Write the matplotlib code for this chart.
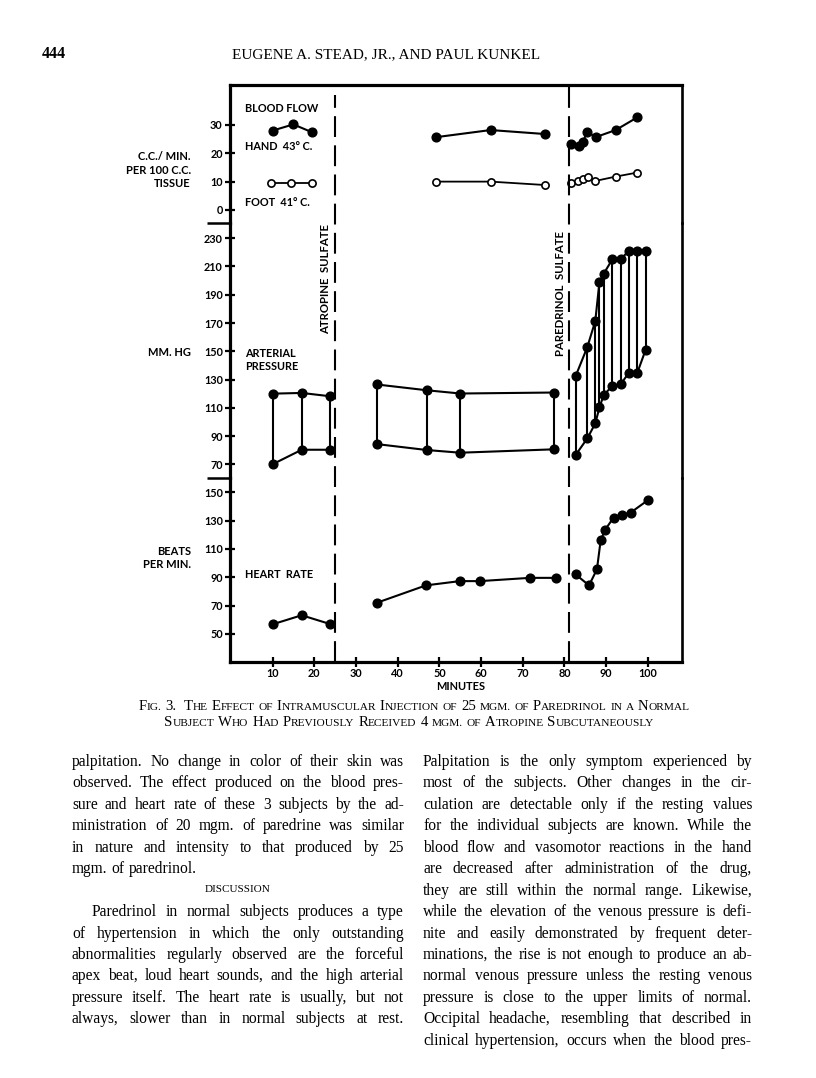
import numpy as np
import matplotlib
matplotlib.use("Agg")
import matplotlib.pyplot as plt

# --- Data -------------------------------------------------------

atropine_t = 25      # minutes, atropine sulfate given
paredrinol_t = 81    # minutes, paredrinol sulfate given

# blood flow, c.c./min per 100 c.c. tissue
hand_t = [10, 15, 19.5, 49.3, 62.3, 75.3, 81.5, 83.5, 84.5, 85.4, 87.5, 92.3, 97.5]
hand_flow = [28.0, 30.2, 27.4, 25.7, 28.2, 26.8, 23.2, 22.6, 24.1, 27.6, 25.7, 28.2, 32.7]
foot_t = [9.6, 14.5, 19.5, 49.3, 62.3, 75.3, 81.5, 83.3, 84.5, 85.7, 87.3, 92.4, 97.5]
foot_flow = [9.5, 9.5, 9.5, 10.0, 10.0, 8.8, 9.6, 10.2, 10.8, 11.8, 10.2, 11.8, 13.2]

# arterial pressure, mm Hg
bp_t = [10, 17, 23.7, 35, 47, 55, 77.5, 82.7, 85.5, 87.4, 88.4, 89.4, 91.5, 93.5, 95.5, 97.5, 99.5]
systolic = [120, 120.5, 118.2, 126.5, 122.4, 120.1, 120.8, 132.5, 153, 171.4, 198.9,
            204.8, 215.1, 215.1, 221.3, 221.3, 221.3]
diastolic = [70, 80.3, 80.3, 84.3, 80.1, 78.2, 80.6, 76.6, 88.4, 98.9, 110.2,
             118.9, 125.5, 126.7, 134.9, 134.9, 151.2]

# heart rate, beats per min
hr_t = [10, 17, 23.8, 35, 46.8, 54.9, 59.7, 71.7, 77.9, 82.7, 85.9, 87.8, 88.7,
        89.8, 91.8, 93.8, 95.9, 100]
heart_rate = [56.8, 63.2, 57, 72, 84.3, 87.3, 87.3, 89.6, 89.6, 92, 84.3, 95.6,
              116.2, 123.7, 132.2, 134, 135.7, 144.4]

flow_ticks = [0, 10, 20, 30]
bp_ticks = list(range(70, 231, 20))
hr_ticks = list(range(50, 151, 20))
minute_ticks = list(range(10, 101, 10))

# --- Page text ---------------------------------------------------

left_col = [
    "palpitation.  No change in color of their skin was",
    "observed.  The effect produced on the blood pres-",
    "sure and heart rate of these 3 subjects by the ad-",
    "ministration of 20 mgm. of paredrine was similar",
    "in nature and intensity to that produced by 25",
    "mgm. of paredrinol.",
]
left_col2 = [
    "Paredrinol in normal subjects produces a type",
    "of hypertension in which the only outstanding",
    "abnormalities regularly observed are the forceful",
    "apex beat, loud heart sounds, and the high arterial",
    "pressure itself.  The heart rate is usually, but not",
    "always, slower than in normal subjects at rest.",
]
right_col = [
    "Palpitation is the only symptom experienced by",
    "most of the subjects.  Other changes in the cir-",
    "culation are detectable only if the resting values",
    "for the individual subjects are known.  While the",
    "blood flow and vasomotor reactions in the hand",
    "are decreased after administration of the drug,",
    "they are still within the normal range.  Likewise,",
    "while the elevation of the venous pressure is defi-",
    "nite and easily demonstrated by frequent deter-",
    "minations, the rise is not enough to produce an ab-",
    "normal venous pressure unless the resting venous",
    "pressure is close to the upper limits of normal.",
    "Occipital headache, resembling that described in",
    "clinical hypertension, occurs when the blood pres-",
]

# --- Figure ------------------------------------------------------

W, H = 816, 1078
fig = plt.figure(figsize=(W / 100, H / 100), dpi=100)
fig.patch.set_facecolor("white")
renderer = fig.canvas.get_renderer()


def fx(px):
    return px / W


def fy(py):
    return 1 - py / H


CHART = dict(family="Lato", weight="bold", color="black")
SERIF = dict(family="Liberation Serif", color="black")

LEFT, RIGHT = 230, 682
TOP, SEP1, SEP2, BOTTOM = 85, 222.7, 478, 662
XLIM = (-0.2, 108.2)


def panel(y_top, y_bot, ylim, yticks):
    ax = fig.add_axes([fx(LEFT), fy(y_bot), (RIGHT - LEFT) / W, (y_bot - y_top) / H])
    ax.set_xlim(*XLIM)
    ax.set_ylim(*ylim)
    ax.set_yticks(yticks)
    ax.patch.set_alpha(0)
    ax.spines["top"].set_visible(False)
    ax.spines["bottom"].set_visible(False)
    ax.spines["left"].set_linewidth(2.3)
    ax.spines["right"].set_linewidth(1.9)
    ax.tick_params(axis="y", direction="inout", length=7.5, width=1.6, pad=1.5)
    ax.tick_params(axis="x", bottom=False, labelbottom=False)
    for lbl in ax.get_yticklabels():
        lbl.set_fontfamily("Lato")
        lbl.set_fontweight("bold")
        lbl.set_fontsize(7.8)
    return ax


def segments(t, v):
    t = np.asarray(t, float)
    v = np.asarray(v, float)
    edges = [-np.inf, atropine_t, paredrinol_t, np.inf]
    for a, b in zip(edges[:-1], edges[1:]):
        m = (t > a) & (t < b)
        if m.any():
            yield t[m], v[m]


def filled(ax, t, v):
    for ts, vs in segments(t, v):
        ax.plot(ts, vs, "-o", color="black", lw=1.5, ms=6.3, zorder=3)


ax_flow = panel(TOP, SEP1, (-4.5, 44.1), flow_ticks)
ax_bp = panel(SEP1, SEP2, (60.3, 241.0), bp_ticks)
ax_hr = panel(SEP2, BOTTOM, (30.2, 160.1), hr_ticks)

ax_flow.spines["top"].set_visible(True)
ax_flow.spines["top"].set_linewidth(2.3)
ax_hr.spines["bottom"].set_visible(True)
ax_hr.spines["bottom"].set_linewidth(2.3)

# blood flow
filled(ax_flow, hand_t, hand_flow)
for ts, vs in segments(foot_t, foot_flow):
    ax_flow.plot(ts, vs, "-o", color="black", lw=1.3, ms=5.2, mfc="white", mew=1.2, zorder=3)

# arterial pressure
ax_bp.vlines(bp_t, diastolic, systolic, color="black", lw=1.5, zorder=2)
filled(ax_bp, bp_t, systolic)
filled(ax_bp, bp_t, diastolic)

# heart rate
filled(ax_hr, hr_t, heart_rate)
ax_hr.set_xticks(minute_ticks)
ax_hr.tick_params(axis="x", bottom=True, labelbottom=True, direction="inout",
                  length=7, width=1.6, pad=0.5)
for lbl in ax_hr.get_xticklabels():
    lbl.set_fontfamily("Lato")
    lbl.set_fontweight("bold")
    lbl.set_fontsize(7.8)
fig.text(fx(461), fy(686), "MINUTES", ha="center", va="center", fontsize=7.9, **CHART)

# short separators between the three scales
for ax in (ax_bp, ax_hr):
    ax.plot([-23 / (RIGHT - LEFT), 0], [1, 1], transform=ax.transAxes,
            clip_on=False, color="black", lw=1.8, solid_capstyle="butt")

# injection markers across the whole chart
ax_all = fig.add_axes([fx(LEFT), fy(BOTTOM), (RIGHT - LEFT) / W, (BOTTOM - TOP) / H])
ax_all.set_xlim(*XLIM)
ax_all.set_ylim(0, 1)
ax_all.axis("off")
ax_all.axvline(atropine_t, ymax=(BOTTOM - 95) / (BOTTOM - TOP), color="black",
               lw=1.5, linestyle=(0, (10, 4)))
ax_all.axvline(paredrinol_t, color="black", lw=1.5, linestyle=(0, (10, 4)))

fig.text(fx(326), fy(279), "ATROPINE  SULFATE", rotation=90, ha="center", va="center",
         fontsize=8.2, **CHART)
fig.text(fx(560), fy(293), "PAREDRINOL  SULFATE", rotation=90, ha="center", va="center",
         fontsize=8.2, **CHART)

# panel labels
inner = [("BLOOD FLOW", 108.5), ("HAND  43° C.", 146), ("FOOT  41° C.", 202),
         ("ARTERIAL", 353.5), ("PRESSURE", 367), ("HEART  RATE", 574.5)]
for s, y in inner:
    fig.text(fx(245), fy(y), s, ha="left", va="center", fontsize=7.8, **CHART)

outer = [("C.C./ MIN.", 157), ("PER 100 C.C.", 170), ("TISSUE", 183.5),
         ("MM. HG", 353), ("BEATS", 551.5), ("PER MIN.", 565)]
for s, y in outer:
    fig.text(fx(191), fy(y), s, ha="right", va="center", fontsize=8, **CHART)

# --- Page furniture ----------------------------------------------


def text_width(s, **kw):
    t = fig.text(0, 0, s, **kw)
    w = t.get_window_extent(renderer).width
    t.remove()
    return w


def put_line(line, x0, x1, base, justify=True, **kw):
    base = round(base)
    words = line.split()
    widths = [text_width(w, **kw) for w in words]
    space = text_width("a a", **kw) - text_width("aa", **kw)
    gap = (x1 - x0 - sum(widths)) / (len(words) - 1) if justify and len(words) > 1 else space
    x = x0
    for w, wd in zip(words, widths):
        fig.text(fx(x), fy(base), w, ha="left", va="baseline", **kw)
        x += wd + gap


def small_caps(s, xc, base, big, small, **kw):
    runs = []
    size = big
    for ch in s:
        if ch == " ":
            runs.append((" ", big))
            continue
        if ch.isupper() or ch.isdigit():
            size = big
        elif ch.isalpha():
            size = small
        runs.append((ch.upper(), size))
    merged = []
    for ch, sz in runs:
        if merged and merged[-1][1] == sz and ch != " " and merged[-1][0] != " ":
            merged[-1] = (merged[-1][0] + ch, sz)
        else:
            merged.append((ch, sz))
    space = text_width("a a", fontsize=big, **kw) - text_width("aa", fontsize=big, **kw)
    widths = [space if r == " " else text_width(r, fontsize=sz, **kw) for r, sz in merged]
    x = xc - sum(widths) / 2
    for (r, sz), wd in zip(merged, widths):
        if r != " ":
            fig.text(fx(x), fy(base), r, ha="left", va="baseline", fontsize=sz, **kw)
        x += wd


fig.text(fx(42), fy(58), "444", ha="left", va="baseline", fontsize=11.5, weight="bold", **SERIF)
fig.text(fx(386), fy(58), "EUGENE A. STEAD, JR., AND PAUL KUNKEL", ha="center",
         va="baseline", fontsize=11, **SERIF)

small_caps("Fig. 3.  The Effect of Intramuscular Injection of 25 mgm. of Paredrinol in a Normal",
           414, 710, 10.6, 8.2, **SERIF)
small_caps("Subject Who Had Previously Received 4 mgm. of Atropine Subcutaneously",
           409, 726, 10.6, 8.2, **SERIF)

LINE0, STEP = 766, 21.45
BODY = dict(fontsize=11.2, **SERIF)
for i, line in enumerate(left_col):
    put_line(line, 72, 404, LINE0 + i * STEP, justify=(i < len(left_col) - 1), **BODY)
fig.text(fx(238), fy(round(LINE0 + 6 * STEP - 3)), "DISCUSSION", ha="center", va="baseline",
         fontsize=8, **SERIF)
for i, line in enumerate(left_col2):
    put_line(line, 92 if i == 0 else 72, 404, LINE0 + (7 + i) * STEP, **BODY)
for i, line in enumerate(right_col):
    put_line(line, 423, 752, LINE0 + i * STEP, **BODY)

fig.savefig("out.png", dpi=100)
